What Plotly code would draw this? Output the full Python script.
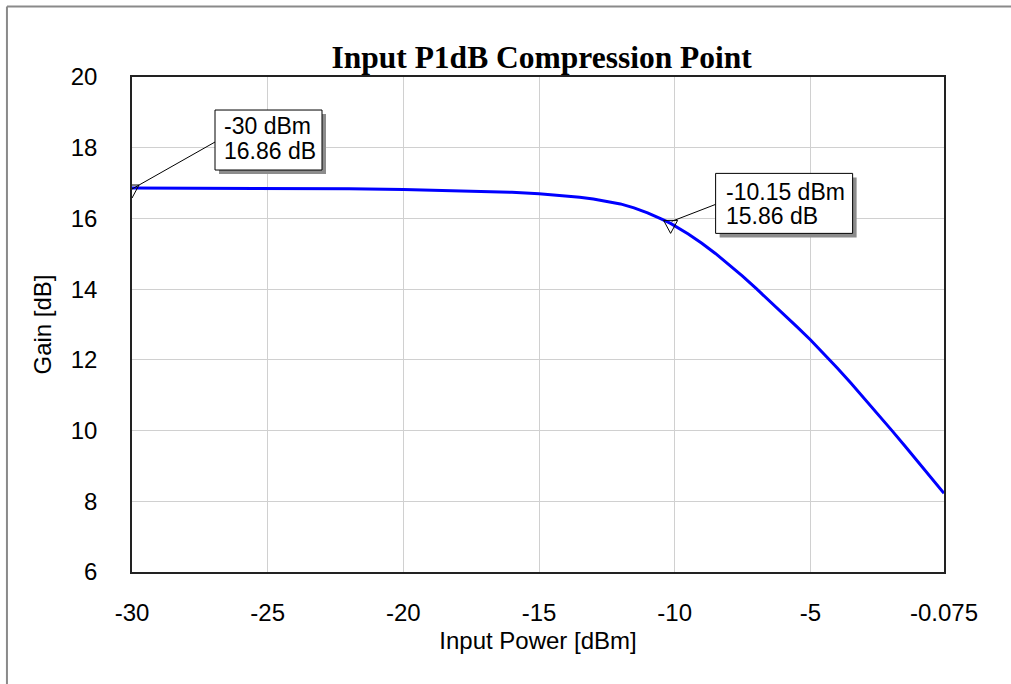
import plotly.graph_objects as go

# ---- data ----
input_power = [-30, -28, -26, -24, -22, -20, -18, -17, -16, -15, -14, -13.5, -13, -12.5,
               -12, -11.5, -11, -10.5, -10.15, -9.5, -9, -8.5, -8, -7.5, -7, -6.5, -6,
               -5.5, -5, -4.5, -4, -3.5, -3, -2.5, -2, -1.5, -1, -0.5, -0.075]
gain_db = [16.86, 16.86, 16.855, 16.85, 16.84, 16.82, 16.79, 16.77, 16.74, 16.70, 16.64,
           16.60, 16.55, 16.49, 16.41, 16.30, 16.16, 15.99, 15.86, 15.56, 15.30, 15.01,
           14.70, 14.37, 14.02, 13.665, 13.30, 12.94, 12.57, 12.17, 11.76, 11.335, 10.90,
           10.455, 10.005, 9.55, 9.09, 8.625, 8.225]

marker_x = [-30, -10.15]
marker_y = [16.86, 15.86]
marker_labels = [["-30 dBm", "16.86 dB"], ["-10.15 dBm", "15.86 dB"]]

x_ticks = [-30, -25, -20, -15, -10, -5, -0.075]
x_tick_text = ["-30", "-25", "-20", "-15", "-10", "-5", "-0.075"]
y_ticks = [6, 8, 10, 12, 14, 16, 18, 20]

SANS = "Liberation Sans, Arial, sans-serif"
SERIF = "Liberation Serif, Times New Roman, serif"

fig = go.Figure()
fig.add_trace(go.Scatter(x=input_power, y=gain_db, mode="lines",
                         line=dict(color="#0000ff", width=3),
                         hoverinfo="x+y", showlegend=False))

shapes = []
annotations = []

# outer frame: left and top edges only
shapes.append(dict(type="line", xref="paper", yref="paper",
                   x0=-0.154, x1=-0.154, y0=-0.25, y1=1.1425,
                   line=dict(color="#8a8a8a", width=2), layer="below"))
shapes.append(dict(type="line", xref="paper", yref="paper",
                   x0=-0.154, x1=1.1, y0=1.1425, y1=1.1425,
                   line=dict(color="#8a8a8a", width=2), layer="below"))

# callout geometry (pixel offsets relative to marker point; positive y = up)
box_geom = [
    dict(bx=(83, 190), by=(18, 78), lead=((0, -1), (83, 46)), txt_x=90, txt_y=(62, 37)),
    dict(bx=(45, 182), by=(-10, 50), lead=((1, 2), (45, 19)), txt_x=53, txt_y=(31, 7)),
]

for (mx, my, labels, g) in zip(marker_x, marker_y, marker_labels, box_geom):
    shapes.append(dict(type="path", xref="x", yref="y", xsizemode="pixel", ysizemode="pixel",
                       xanchor=mx, yanchor=my, path="M -7 3 L 7 3 L 0 -10 Z",
                       line=dict(color="black", width=1), fillcolor="rgba(0,0,0,0)", layer="above"))
    (lx0, ly0), (lx1, ly1) = g["lead"]
    shapes.append(dict(type="line", xref="x", yref="y", xsizemode="pixel", ysizemode="pixel",
                       xanchor=mx, yanchor=my, x0=lx0, y0=ly0, x1=lx1, y1=ly1,
                       line=dict(color="black", width=1), layer="above"))
    shapes.append(dict(type="rect", xref="x", yref="y", xsizemode="pixel", ysizemode="pixel",
                       xanchor=mx, yanchor=my, x0=g["bx"][0] + 4, x1=g["bx"][1] + 4,
                       y0=g["by"][0] - 4, y1=g["by"][1] - 4,
                       line=dict(width=0), fillcolor="#8c8c8c", layer="above"))
    shapes.append(dict(type="rect", xref="x", yref="y", xsizemode="pixel", ysizemode="pixel",
                       xanchor=mx, yanchor=my, x0=g["bx"][0], x1=g["bx"][1],
                       y0=g["by"][0], y1=g["by"][1],
                       line=dict(color="black", width=1), fillcolor="white", layer="above"))
    for txt, ys in zip(labels, g["txt_y"]):
        annotations.append(dict(x=mx, y=my, xref="x", yref="y", text=txt, showarrow=False,
                                xanchor="left", yanchor="middle", xshift=g["txt_x"], yshift=ys,
                                font=dict(family=SANS, size=23, color="black")))

fig.update_layout(
    width=1011, height=684, autosize=False,
    margin=dict(l=132, r=67, t=77, b=112),
    paper_bgcolor="white", plot_bgcolor="white",
    title=dict(text="<b>Input P1dB Compression Point</b>", x=0.5045, xref="paper",
               xanchor="center", y=0.917, yanchor="middle",
               font=dict(family=SERIF, size=31.5, color="black")),
    shapes=shapes, annotations=annotations,
    xaxis=dict(range=[-30, -0.075], tickvals=x_ticks, ticktext=x_tick_text,
               showgrid=True, gridcolor="#d0d0d0", gridwidth=1, zeroline=False,
               showline=True, linecolor="#222", linewidth=1.5, mirror=True,
               ticks="", ticklabelstandoff=18,
               tickfont=dict(family=SANS, size=24, color="black"),
               title=dict(text="Input Power [dBm]", standoff=8,
                          font=dict(family=SANS, size=24, color="black"))),
    yaxis=dict(range=[6, 20], tickvals=y_ticks,
               showgrid=True, gridcolor="#d0d0d0", gridwidth=1, zeroline=False,
               showline=True, linecolor="#222", linewidth=1.5, mirror=True,
               ticks="", ticklabelstandoff=28,
               tickfont=dict(family=SANS, size=24, color="black"),
               title=dict(text="Gain [dB]", standoff=12,
                          font=dict(family=SANS, size=24, color="black"))),
)

fig.write_html("out.html")
